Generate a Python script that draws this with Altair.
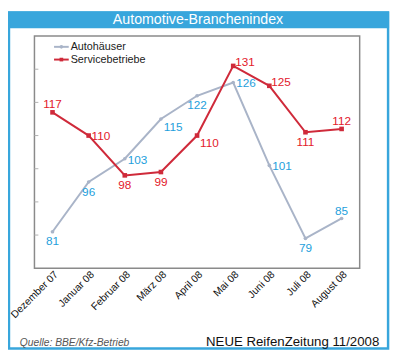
import altair as alt
import pandas as pd

months = ["Dezember 07", "Januar 08", "Februar 08", "März 08", "April 08",
          "Mai 08", "Juni 08", "Juli 08", "August 08"]
autohaeuser = [81, 96, 103, 115, 122, 126, 101, 79, 85]
service = [117, 110, 98, 99, 110, 131, 125, 111, 112]
auto_place = ["below", "below", "right", "belowright", "below", "right", "right", "below", "above"]
serv_place = ["above", "right", "below", "below", "belowright", "aboveright", "aboveright", "below", "above"]
y_ticks = [80, 90, 100, 110, 120, 130]
series_names = ["Autohäuser", "Servicebetriebe"]
title_text = "Automotive-Branchenindex"
source_text = "Quelle: BBE/Kfz-Betrieb"
credit_text = "NEUE ReifenZeitung 11/2008"

FONT = "Liberation Sans, Arial, sans-serif"
BLUE = "#38a6dc"
AUTO_LINE = "#a9b4c8"
AUTO_TEXT = "#1ea0dc"
SERV_LINE = "#cf2a3a"
SERV_TEXT = "#e3202c"

df_auto = pd.DataFrame({"month": months, "value": autohaeuser, "place": auto_place})
df_serv = pd.DataFrame({"month": months, "value": service, "place": serv_place})
df_ticks = pd.DataFrame({"v": y_ticks})
one = pd.DataFrame({"d": [0]})

xs = alt.X("month:N", sort=months, scale=alt.Scale(type="point", padding=0.5),
           axis=alt.Axis(labelAngle=-45, ticks=False, domain=False, labelFontSize=10.5,
                         labelFont=FONT, labelColor="#111", labelPadding=1),
           title=None)
ys = alt.Y("value:Q", scale=alt.Scale(domain=[70, 140], nice=False, zero=False), axis=None)

placements = {
    "above": dict(align="center", baseline="alphabetic", dx=0, dy=-4),
    "below": dict(align="center", baseline="alphabetic", dx=0, dy=14),
    "right": dict(align="left", baseline="alphabetic", dx=3, dy=5),
    "belowright": dict(align="left", baseline="alphabetic", dx=3, dy=12),
    "aboveright": dict(align="left", baseline="alphabetic", dx=2, dy=0),
}

layers = []

# background frame pieces
layers.append(alt.Chart(one).mark_rect(color=BLUE).encode(
    x=alt.value(-27), x2=alt.value(362), y=alt.value(-25), y2=alt.value(-8)))
layers.append(alt.Chart(one).mark_rect(fillOpacity=0, stroke=BLUE, strokeWidth=2.5).encode(
    x=alt.value(-26), x2=alt.value(361), y=alt.value(-24), y2=alt.value(319)))
layers.append(alt.Chart(one).mark_text(font=FONT, fontSize=14.5, color="white",
                                       align="center", baseline="middle").encode(
    x=alt.value(167), y=alt.value(-16), text=alt.value(title_text)))

# y ticks (inside)
layers.append(alt.Chart(df_ticks).mark_rule(color="#b0b0b0", strokeWidth=1).encode(
    y=alt.Y("v:Q", scale=alt.Scale(domain=[70, 140], nice=False, zero=False), axis=None),
    x=alt.value(0), x2=alt.value(4)))

# lines
layers.append(alt.Chart(df_auto).mark_line(color=AUTO_LINE, strokeWidth=2).encode(x=xs, y=ys))
layers.append(alt.Chart(df_auto).mark_point(color=AUTO_LINE, filled=True, size=14, opacity=1).encode(x=xs, y=ys))
layers.append(alt.Chart(df_serv).mark_line(color=SERV_LINE, strokeWidth=2).encode(x=xs, y=ys))
layers.append(alt.Chart(df_serv).mark_point(color=SERV_LINE, filled=True, shape="square", size=22, opacity=1).encode(x=xs, y=ys))

# value labels
for df, col in [(df_auto, AUTO_TEXT), (df_serv, SERV_TEXT)]:
    for name, p in placements.items():
        sub = df[df["place"] == name]
        if len(sub) == 0:
            continue
        layers.append(alt.Chart(sub).mark_text(font=FONT, fontSize=12, color=col, **p).encode(
            x=xs, y=ys, text=alt.Text("value:Q")))

# legend
for i, (name, col, shape) in enumerate([(series_names[0], AUTO_LINE, "circle"),
                                        (series_names[1], SERV_LINE, "square")]):
    yy = 11 + 13 * i
    layers.append(alt.Chart(one).mark_rule(color=col, strokeWidth=2).encode(
        x=alt.value(20), x2=alt.value(35), y=alt.value(yy)))
    layers.append(alt.Chart(one).mark_point(color=col, filled=True, shape=shape, size=14, opacity=1).encode(
        x=alt.value(27.5), y=alt.value(yy)))
    layers.append(alt.Chart(one).mark_text(font=FONT, fontSize=11, color="#222",
                                           align="left", baseline="middle").encode(
        x=alt.value(37), y=alt.value(yy), text=alt.value(name)))

# footer
layers.append(alt.Chart(one).mark_text(font=FONT, fontSize=10.5, fontStyle="italic", color="#555",
                                       align="left", baseline="alphabetic").encode(
    x=alt.value(-15), y=alt.value(316), text=alt.value(source_text)))
layers.append(alt.Chart(one).mark_text(font=FONT, fontSize=13.5, color="#111",
                                       align="right", baseline="alphabetic").encode(
    x=alt.value(352), y=alt.value(316), text=alt.value(credit_text)))

chart = alt.layer(*layers).properties(
    width=332, height=237,
    autosize=alt.AutoSizeParams(type="none"),
    padding={"left": 27, "top": 25, "right": 33, "bottom": 88},
    background="white",
).configure_view(stroke="#8a8a8a", strokeWidth=1.5)

chart.save("out.html", embed_options={"renderer": "svg", "actions": False})
